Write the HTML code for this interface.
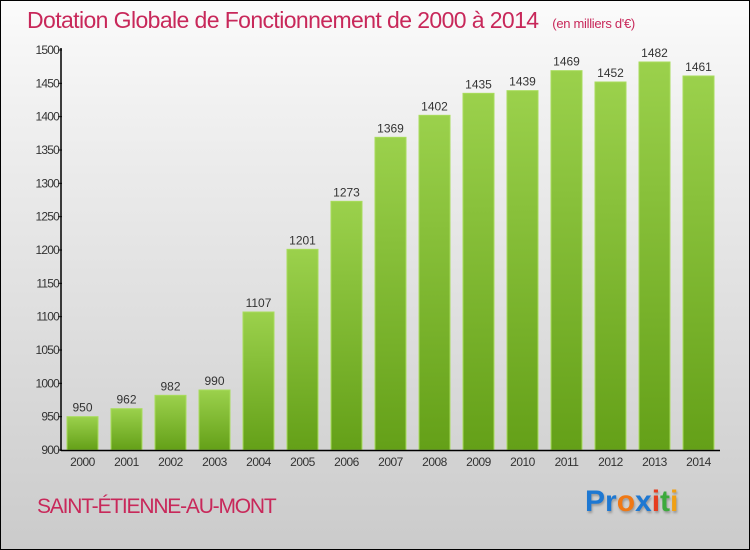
<!DOCTYPE html>
<html><head><meta charset="utf-8"><style>
html,body{margin:0;padding:0}
body{width:750px;height:550px;overflow:hidden;font-family:"Liberation Sans",sans-serif}
#wrap{position:relative;width:748px;height:548px;border:1px solid #000;background:linear-gradient(#fbfbfb,#f0f0f0 20%,#cbcbcb)}
.t{position:absolute;white-space:nowrap}
</style></head><body>
<div id="wrap">
<div class="t" style="left:26px;top:6px;font-size:23px;color:#c8285a;letter-spacing:-0.6px">Dotation Globale de Fonctionnement de 2000 à 2014 <span style="font-size:13px;margin-left:8px;letter-spacing:-0.3px">(en milliers d'€)</span></div>
<svg id="chart" width="750" height="550" style="position:absolute;left:-1px;top:-1px">
<defs><linearGradient id="g" x1="0" y1="0" x2="0" y2="1"><stop offset="0" stop-color="#9bd14c"/><stop offset="1" stop-color="#64a018"/></linearGradient></defs>
</svg>
<div class="t" style="left:36px;top:494px;font-size:21px;color:#c8285a;letter-spacing:-1.2px">SAINT-ÉTIENNE-AU-MONT</div>
<div class="t" style="left:584px;top:484px;font-size:30px;font-weight:bold;letter-spacing:0px;text-shadow:1px 2px 2px #999"><span style="color:#1e78d2">Pr</span><span style="color:#f07814">o</span><span style="color:#1e78d2">x</span><span style="color:#e63c1e">i</span><span style="color:#3caa3c">t</span><span style="color:#f0a014">i</span></div>
</div>
<script>
const years=["2000","2001","2002","2003","2004","2005","2006","2007","2008","2009","2010","2011","2012","2013","2014"];
const values=[950,962,982,990,1107,1201,1273,1369,1402,1435,1439,1469,1452,1482,1461];
const yTicks=[900,950,1000,1050,1100,1150,1200,1250,1300,1350,1400,1450,1500];
const svg=document.getElementById('chart');
const NS='http://www.w3.org/2000/svg';
const y=v=>450-(v-900)*400/600;
const x=i=>67+i*44;
function mk(t,a,txt){const e=document.createElementNS(NS,t);for(const k in a)e.setAttribute(k,a[k]);if(txt!==undefined)e.textContent=txt;svg.appendChild(e);return e;}
values.forEach((v,i)=>{
 const r=mk('rect',{x:x(i),y:y(v),width:31,height:450-y(v),fill:'url(#g)',stroke:'#a8dc5c','stroke-width':1});
 
 
 const l=mk('text',{x:x(i)+15.5,y:y(v)-5,'text-anchor':'middle','font-size':12,fill:'#333','font-family':'Liberation Sans'},v);
 
 
 const xl=mk('text',{x:x(i)+15.5,y:466,'text-anchor':'middle','font-size':12,fill:'#333','font-family':'Liberation Sans','letter-spacing':'-0.5'},years[i]);
 
 
});
yTicks.forEach(t=>{
 const tk=mk('line',{x1:58,x2:62,y1:y(t),y2:y(t),stroke:'#000'});
 
 
 const tl=mk('text',{x:59,y:y(t)+4,'text-anchor':'end','font-size':12,fill:'#333','font-family':'Liberation Sans','letter-spacing':'-0.8'},t);
 
 
});
const ya=mk('line',{x1:61,x2:61,y1:48,y2:451,stroke:'#000','stroke-width':1.5});


const xa=mk('line',{x1:61,x2:720,y1:450.5,y2:450.5,stroke:'#000','stroke-width':1.5});


</script>
</body></html>
